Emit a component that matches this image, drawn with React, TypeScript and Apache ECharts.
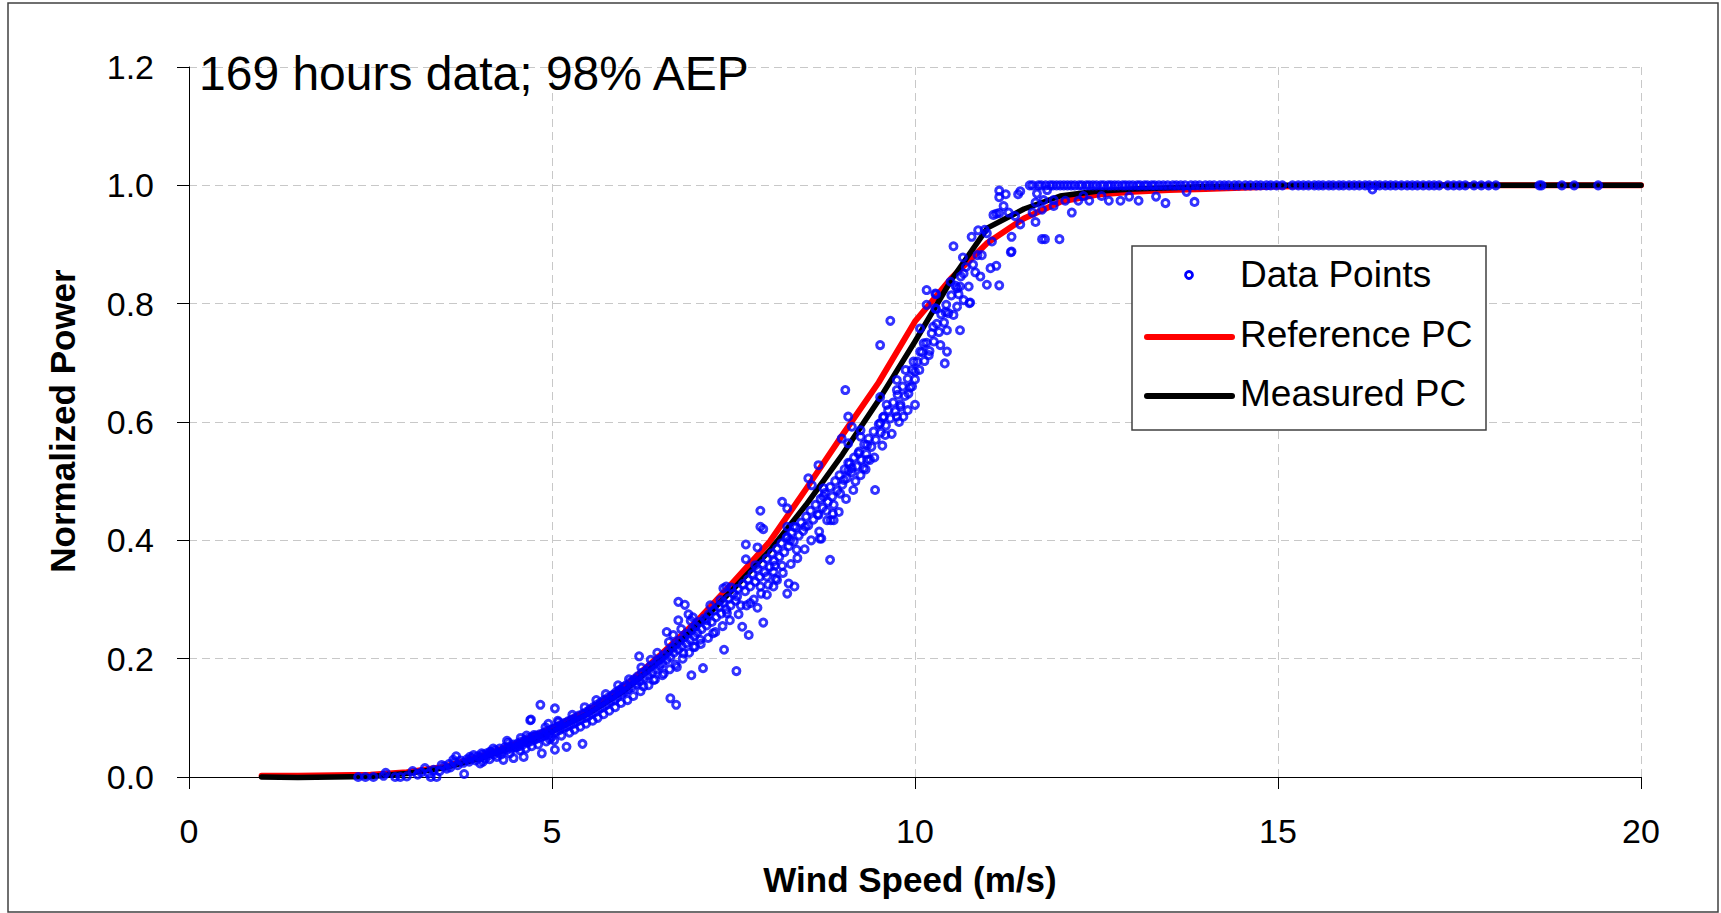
import React, { useEffect, useRef } from "react";
import * as echarts from "echarts";

const titleText = "169 hours data; 98% AEP";
const xAxisTitle = "Wind Speed (m/s)";
const yAxisTitle = "Normalized Power";
const legendNames = ["Data Points", "Reference PC", "Measured PC"];

const xTickValues = [0, 5, 10, 15, 20];
const yTickValues = [0, 0.2, 0.4, 0.6, 0.8, 1.0, 1.2];

// power curve bins (m/s)
const pcWind = [
  1, 1.5, 2, 2.5, 3, 3.5, 4, 4.5, 5, 5.5, 6, 6.5, 7, 7.5, 8, 8.5, 9, 9.5, 10, 10.5,
  11, 11.5, 12, 12.5, 13, 13.5, 14, 14.5, 15, 15.5, 16, 16.5, 17, 17.5, 18, 18.5, 19, 19.5, 20,
];
const referencePC = [
  0.002, 0.002, 0.003, 0.004, 0.008, 0.017, 0.034, 0.056, 0.083, 0.113, 0.153, 0.207, 0.264, 0.33, 0.398, 0.487, 0.578, 0.667, 0.77, 0.843,
  0.903, 0.944, 0.972, 0.984, 0.989, 0.992, 0.994, 0.996, 0.998, 0.999, 1, 1, 1, 1, 1, 1, 1, 1, 1,
];
const measuredPC = [
  0, -0.001, 0, 0.001, 0.006, 0.015, 0.031, 0.052, 0.077, 0.107, 0.146, 0.198, 0.256, 0.318, 0.383, 0.46, 0.545, 0.637, 0.736, 0.84,
  0.928, 0.96, 0.982, 0.99, 0.994, 0.996, 0.998, 0.999, 1, 1, 1, 1, 1, 1, 1, 1, 1, 1, 1,
];

// measured 10-min data points [wind speed, normalized power]
const dataPoints: [number, number][] = [
  [2.33, 0], [2.43, 0], [2.54, 0], [2.68, 0.002], [2.71, 0.007], [2.84, 0], [2.91, 0], [3.0, 0.001], [3.08, 0.01], [3.15, 0.004],
  [3.2, 0.008], [3.25, 0.015], [3.3, 0.006], [3.33, 0], [3.37, 0.012], [3.41, 0], [3.45, 0.01], [3.48, 0.02], [3.52, 0.018], [3.55, 0.014],
  [3.58, 0.022], [3.6, 0.016], [3.64, 0.029], [3.66, 0.025], [3.68, 0.035], [3.7, 0.02], [3.74, 0.028], [3.78, 0.024], [3.79, 0.005], [3.83, 0.03],
  [3.86, 0.026], [3.87, 0.034], [3.9, 0.032], [3.92, 0.037], [3.95, 0.028], [3.98, 0.035], [4.01, 0.023], [4.02, 0.033], [4.03, 0.04], [4.05, 0.038],
  [4.08, 0.031], [4.1, 0.04], [4.12, 0.036], [4.15, 0.043], [4.16, 0.042], [4.19, 0.048], [4.2, 0.038], [4.22, 0.045], [4.26, 0.041], [4.28, 0.048],
  [4.31, 0.044], [4.33, 0.029], [4.35, 0.05], [4.38, 0.061], [4.38, 0.046], [4.41, 0.052], [4.44, 0.048], [4.47, 0.032], [4.47, 0.055], [4.5, 0.05],
  [4.52, 0.051], [4.53, 0.057], [4.55, 0.052], [4.58, 0.06], [4.6, 0.055], [4.61, 0.034], [4.63, 0.062], [4.66, 0.058], [4.68, 0.066], [4.7, 0.096],
  [4.7, 0.06], [4.71, 0.097], [4.73, 0.068], [4.75, 0.071], [4.76, 0.063], [4.78, 0.07], [4.8, 0.065], [4.83, 0.072], [4.84, 0.122], [4.86, 0.04],
  [4.86, 0.068], [4.88, 0.074], [4.9, 0.07], [4.93, 0.078], [4.96, 0.073], [4.98, 0.079], [5.0, 0.068], [5.02, 0.082], [5.04, 0.116], [5.04, 0.046],
  [5.05, 0.076], [5.07, 0.085], [5.09, 0.093], [5.1, 0.079], [5.12, 0.088], [5.15, 0.083], [5.17, 0.091], [5.2, 0.051], [5.2, 0.085], [5.22, 0.094],
  [5.25, 0.088], [5.27, 0.097], [5.3, 0.09], [5.32, 0.1], [5.35, 0.094], [5.37, 0.104], [5.4, 0.097], [5.42, 0.056], [5.43, 0.107], [5.46, 0.1],
  [5.48, 0.11], [5.5, 0.103], [5.52, 0.114], [5.55, 0.107], [5.57, 0.118], [5.6, 0.11], [5.62, 0.122], [5.65, 0.115], [5.67, 0.126], [5.7, 0.118],
  [5.72, 0.13], [5.75, 0.122], [5.77, 0.134], [5.8, 0.127], [5.83, 0.138], [5.85, 0.139], [5.86, 0.13], [5.88, 0.143], [5.9, 0.135], [5.93, 0.147],
  [5.94, 0.147], [5.96, 0.14], [5.98, 0.152], [6.0, 0.144], [6.02, 0.155], [6.05, 0.148], [6.08, 0.16], [6.1, 0.152], [6.13, 0.165], [6.16, 0.157],
  [6.17, 0.164], [6.18, 0.17], [6.2, 0.204], [6.21, 0.162], [6.24, 0.176], [6.26, 0.153], [6.27, 0.168], [6.3, 0.18], [6.32, 0.172], [6.35, 0.186],
  [6.38, 0.177], [6.4, 0.164], [6.4, 0.19], [6.43, 0.182], [6.46, 0.196], [6.48, 0.188], [6.5, 0.2], [6.52, 0.192], [6.54, 0.175], [6.55, 0.206],
  [6.58, 0.245], [6.58, 0.198], [6.6, 0.212], [6.63, 0.133], [6.63, 0.203], [6.66, 0.218], [6.67, 0.24], [6.68, 0.21], [6.71, 0.122], [6.71, 0.224],
  [6.72, 0.186], [6.74, 0.265], [6.74, 0.296], [6.74, 0.215], [6.76, 0.23], [6.79, 0.221], [6.81, 0.209], [6.82, 0.236], [6.83, 0.291], [6.85, 0.226],
  [6.87, 0.242], [6.88, 0.275], [6.9, 0.232], [6.91, 0.264], [6.92, 0.172], [6.93, 0.249], [6.95, 0.22], [6.96, 0.238], [6.98, 0.255], [7.0, 0.244],
  [7.03, 0.262], [7.04, 0.232], [7.06, 0.25], [7.08, 0.184], [7.1, 0.268], [7.13, 0.256], [7.13, 0.265], [7.16, 0.275], [7.2, 0.262], [7.22, 0.243],
  [7.23, 0.282], [7.26, 0.27], [7.3, 0.288], [7.32, 0.299], [7.33, 0.276], [7.36, 0.319], [7.36, 0.295], [7.37, 0.215], [7.4, 0.322], [7.4, 0.283],
  [7.41, 0.277], [7.43, 0.302], [7.46, 0.29], [7.5, 0.31], [7.53, 0.298], [7.54, 0.179], [7.55, 0.305], [7.56, 0.318], [7.6, 0.29], [7.62, 0.254],
  [7.63, 0.326], [7.66, 0.314], [7.67, 0.393], [7.67, 0.368], [7.7, 0.334], [7.71, 0.24], [7.73, 0.294], [7.73, 0.322], [7.76, 0.343], [7.8, 0.358],
  [7.8, 0.33], [7.83, 0.388], [7.83, 0.286], [7.83, 0.352], [7.86, 0.338], [7.87, 0.45], [7.87, 0.423], [7.87, 0.322], [7.9, 0.36], [7.91, 0.419],
  [7.91, 0.261], [7.93, 0.346], [7.96, 0.339], [7.96, 0.308], [7.96, 0.369], [8.0, 0.355], [8.03, 0.378], [8.05, 0.347], [8.05, 0.322], [8.06, 0.365],
  [8.07, 0.357], [8.1, 0.333], [8.1, 0.386], [8.13, 0.372], [8.16, 0.395], [8.17, 0.465], [8.17, 0.357], [8.2, 0.38], [8.23, 0.404], [8.24, 0.454],
  [8.24, 0.423], [8.24, 0.406], [8.24, 0.31], [8.26, 0.327], [8.26, 0.39], [8.28, 0.4], [8.3, 0.413], [8.33, 0.423], [8.33, 0.398], [8.34, 0.322],
  [8.36, 0.422], [8.37, 0.384], [8.4, 0.408], [8.43, 0.43], [8.46, 0.416], [8.49, 0.423], [8.5, 0.44], [8.53, 0.505], [8.53, 0.425], [8.56, 0.45],
  [8.58, 0.493], [8.6, 0.435], [8.63, 0.46], [8.66, 0.444], [8.67, 0.527], [8.67, 0.443], [8.69, 0.403], [8.7, 0.47], [8.71, 0.403], [8.73, 0.455],
  [8.74, 0.488], [8.74, 0.474], [8.76, 0.48], [8.79, 0.434], [8.8, 0.465], [8.83, 0.49], [8.83, 0.367], [8.84, 0.434], [8.86, 0.474], [8.88, 0.46],
  [8.88, 0.434], [8.9, 0.5], [8.93, 0.484], [8.95, 0.448], [8.96, 0.51], [8.97, 0.479], [8.99, 0.572], [9.0, 0.494], [9.02, 0.502], [9.03, 0.52],
  [9.04, 0.654], [9.06, 0.505], [9.08, 0.609], [9.08, 0.564], [9.08, 0.531], [9.08, 0.518], [9.1, 0.53], [9.13, 0.592], [9.13, 0.522], [9.13, 0.515],
  [9.15, 0.485], [9.16, 0.54], [9.2, 0.525], [9.22, 0.547], [9.23, 0.55], [9.25, 0.586], [9.25, 0.575], [9.25, 0.51], [9.26, 0.536], [9.29, 0.522],
  [9.3, 0.562], [9.33, 0.546], [9.34, 0.561], [9.34, 0.536], [9.36, 0.572], [9.38, 0.536], [9.4, 0.558], [9.43, 0.584], [9.45, 0.485], [9.46, 0.57],
  [9.5, 0.596], [9.52, 0.73], [9.52, 0.642], [9.52, 0.598], [9.53, 0.582], [9.56, 0.608], [9.57, 0.609], [9.59, 0.578], [9.6, 0.594], [9.61, 0.629],
  [9.63, 0.62], [9.66, 0.771], [9.66, 0.606], [9.7, 0.633], [9.73, 0.618], [9.75, 0.671], [9.75, 0.654], [9.75, 0.609], [9.76, 0.646], [9.8, 0.626],
  [9.8, 0.63], [9.83, 0.66], [9.84, 0.609], [9.86, 0.644], [9.87, 0.688], [9.9, 0.673], [9.91, 0.648], [9.93, 0.658], [9.96, 0.66], [9.96, 0.688],
  [9.98, 0.702], [10.0, 0.629], [10.0, 0.685], [10.0, 0.672], [10.03, 0.702], [10.06, 0.688], [10.07, 0.758], [10.07, 0.719], [10.1, 0.718], [10.12, 0.733],
  [10.13, 0.703], [10.16, 0.823], [10.16, 0.798], [10.16, 0.734], [10.19, 0.713], [10.2, 0.72], [10.23, 0.75], [10.25, 0.761], [10.26, 0.736], [10.28, 0.817],
  [10.28, 0.792], [10.29, 0.816], [10.29, 0.791], [10.3, 0.766], [10.33, 0.752], [10.35, 0.73], [10.36, 0.782], [10.4, 0.768], [10.41, 0.699], [10.42, 0.786],
  [10.43, 0.798], [10.44, 0.755], [10.44, 0.719], [10.46, 0.784], [10.49, 0.837], [10.5, 0.814], [10.53, 0.897], [10.53, 0.781], [10.56, 0.83], [10.58, 0.826],
  [10.58, 0.795], [10.6, 0.816], [10.62, 0.829], [10.62, 0.755], [10.63, 0.846], [10.66, 0.878], [10.67, 0.851], [10.67, 0.806], [10.7, 0.862], [10.74, 0.829],
  [10.75, 0.801], [10.76, 0.802], [10.78, 0.913], [10.8, 0.866], [10.83, 0.853], [10.86, 0.882], [10.87, 0.924], [10.9, 0.846], [10.92, 0.882], [10.96, 0.925],
  [10.99, 0.832], [10.99, 0.919], [11.04, 0.86], [11.06, 0.905], [11.08, 0.95], [11.12, 0.864], [11.12, 0.952], [11.16, 0.991], [11.16, 0.98], [11.16, 0.953],
  [11.16, 0.831], [11.22, 0.965], [11.25, 0.985], [11.29, 0.954], [11.32, 0.887], [11.33, 0.913], [11.33, 0.888], [11.38, 0.948], [11.42, 0.985], [11.45, 0.99],
  [11.45, 0.934], [11.58, 1], [11.62, 0.954], [11.66, 0.938], [11.66, 0.971], [11.68, 0.986], [11.75, 0.909], [11.79, 0.909], [11.75, 0.959], [11.77, 0.975],
  [11.82, 0.992], [11.91, 0.975], [11.91, 0.965], [11.99, 0.909], [12.07, 0.974], [12.16, 0.954], [12.25, 0.974], [12.32, 0.982], [12.4, 0.974], [12.57, 0.982],
  [12.67, 0.974], [12.83, 0.974], [12.95, 0.981], [13.08, 0.974], [13.32, 0.981], [13.45, 0.97], [13.74, 0.989], [13.85, 0.972], [16.3, 0.993],
  [4.05, 0.026], [4.14, 0.03], [4.24, 0.034], [4.3, 0.038], [4.42, 0.04], [4.56, 0.045], [4.64, 0.048], [4.72, 0.052], [4.81, 0.055], [4.92, 0.06],
  [4.97, 0.064], [4.4, 0.058], [4.57, 0.066], [4.65, 0.07], [4.91, 0.084], [4.95, 0.09], [5.03, 0.062], [5.13, 0.07], [5.24, 0.075], [5.31, 0.08],
  [5.39, 0.085], [5.47, 0.09], [5.56, 0.095], [5.63, 0.1], [5.71, 0.106], [5.79, 0.112], [5.87, 0.118], [5.95, 0.125], [5.08, 0.095], [5.28, 0.105],
  [5.45, 0.118], [5.61, 0.13], [5.74, 0.14], [5.91, 0.155], [6.04, 0.13], [6.12, 0.137], [6.22, 0.145], [6.33, 0.155], [6.42, 0.165], [6.52, 0.172],
  [6.62, 0.182], [6.7, 0.19], [6.8, 0.2], [6.89, 0.21], [6.97, 0.22], [6.06, 0.165], [6.23, 0.185], [6.36, 0.198], [6.45, 0.21], [6.61, 0.228],
  [6.78, 0.25], [6.94, 0.27], [7.05, 0.225], [7.15, 0.235], [7.25, 0.245], [7.35, 0.255], [7.45, 0.265], [7.57, 0.275], [7.68, 0.29], [7.78, 0.3],
  [7.88, 0.31], [7.98, 0.325], [7.18, 0.29], [7.47, 0.32], [8.08, 0.335], [8.18, 0.345], [8.29, 0.36], [8.38, 0.37], [8.48, 0.385], [8.57, 0.4],
  [8.68, 0.415], [8.78, 0.45], [8.87, 0.445], [9.05, 0.47], [9.18, 0.5], [9.32, 0.52], [9.44, 0.54], [9.55, 0.56], [9.68, 0.58], [9.78, 0.6],
  [9.9, 0.62],
  [11.62, 1], [11.7, 1], [11.74, 1], [11.8, 1], [11.86, 1], [11.9, 1], [11.95, 1], [12.0, 1], [12.05, 1], [12.1, 1],
  [12.15, 1], [12.2, 1], [12.26, 1], [12.3, 1], [12.36, 1], [12.4, 1], [12.45, 1], [12.5, 1], [12.56, 1], [12.6, 1],
  [12.66, 1], [12.7, 1], [12.75, 1], [12.8, 1], [12.86, 1], [12.9, 1], [12.95, 1], [13.0, 1], [13.06, 1], [13.1, 1],
  [13.16, 1], [13.2, 1], [13.26, 1], [13.3, 1], [13.36, 1], [13.42, 1], [13.48, 1], [13.55, 1], [13.6, 1], [13.66, 1],
  [13.72, 1], [13.8, 1], [13.86, 1], [13.92, 1], [14.0, 1], [14.06, 1], [14.12, 1], [14.2, 1], [14.26, 1], [14.32, 1],
  [14.4, 1], [14.46, 1], [14.55, 1], [14.62, 1], [14.7, 1], [14.76, 1], [14.84, 1], [14.9, 1], [14.98, 1], [15.06, 1],
  [15.2, 1], [15.28, 1], [15.35, 1], [15.42, 1], [15.5, 1], [15.56, 1], [15.62, 1], [15.7, 1], [15.76, 1], [15.84, 1],
  [15.9, 1], [15.98, 1], [16.05, 1], [16.12, 1], [16.2, 1], [16.26, 1], [16.34, 1], [16.4, 1], [16.48, 1], [16.55, 1],
  [16.62, 1], [16.7, 1], [16.78, 1], [16.85, 1], [16.92, 1], [17.0, 1], [17.08, 1], [17.15, 1], [17.22, 1], [17.34, 1],
  [17.42, 1], [17.5, 1], [17.58, 1], [17.7, 1], [17.8, 1], [17.9, 1], [18.0, 1], [18.6, 1], [18.63, 1], [18.91, 1],
  [19.08, 1], [19.41, 1],
];

const FONT = '"Liberation Sans", Arial, Helvetica, sans-serif';

function txt(text: string, x: number, y: number, size: number, opts: any = {}) {
  return {
    type: "text",
    x,
    y,
    rotation: opts.rotation || 0,
    z: 100,
    style: {
      text,
      fill: "#000",
      fontSize: size,
      fontFamily: FONT,
      fontWeight: opts.bold ? "bold" : "normal",
      align: opts.align || "left",
      textAlign: opts.align || "left",
      verticalAlign: "middle",
      textVerticalAlign: "middle",
    },
  };
}

export default function App() {
  const ref = useRef<HTMLDivElement>(null);
  useEffect(() => {
    document.body.style.margin = "0";
    const chart = echarts.init(ref.current!, null, { renderer: "svg" });
    const option: any = {
      animation: false,
      backgroundColor: "#ffffff",
      grid: { left: 189, right: 80, top: 67, bottom: 136, containLabel: false },
      xAxis: {
        type: "value",
        min: xTickValues[0],
        max: xTickValues[xTickValues.length - 1],
        interval: 5,
        axisLine: { show: true, onZero: false, lineStyle: { color: "#000", width: 1 } },
        axisTick: { show: true, inside: false, length: 12, lineStyle: { color: "#000", width: 1 } },
        axisLabel: {
          fontSize: 34,
          fontFamily: FONT,
          color: "#000",
          margin: 37,
          formatter: (v: number) => String(v),
        },
        splitLine: { show: true, lineStyle: { color: "#c8c8c8", width: 1, type: [8, 5] } },
      },
      yAxis: {
        type: "value",
        min: yTickValues[0],
        max: yTickValues[yTickValues.length - 1],
        interval: 0.2,
        axisLine: { show: true, onZero: false, lineStyle: { color: "#000", width: 1 } },
        axisTick: { show: true, inside: false, length: 12, lineStyle: { color: "#000", width: 1 } },
        axisLabel: {
          fontSize: 34,
          fontFamily: FONT,
          color: "#000",
          margin: 35,
          formatter: (v: number) => v.toFixed(1),
        },
        splitLine: { show: true, lineStyle: { color: "#c8c8c8", width: 1, type: [8, 5] } },
      },
      series: [
        {
          name: legendNames[1],
          type: "line",
          data: pcWind.map((w, i) => [w, referencePC[i]]),
          showSymbol: false,
          symbol: "none",
          clip: false,
          z: 2,
          lineStyle: { color: "#ff0000", width: 6, cap: "round", join: "round" },
        },
        {
          name: legendNames[2],
          type: "line",
          data: pcWind.map((w, i) => [w, measuredPC[i]]),
          showSymbol: false,
          symbol: "none",
          clip: false,
          z: 3,
          lineStyle: { color: "#000000", width: 5.5, cap: "round", join: "round" },
        },
        {
          name: legendNames[0],
          type: "scatter",
          data: dataPoints,
          symbol: "circle",
          symbolSize: 7,
          clip: false,
          z: 4,
          itemStyle: { color: "rgba(255,255,255,0)", borderColor: "#0000ff", borderWidth: 3 },
        },
      ],
      graphic: [
        {
          type: "rect",
          z: 0,
          shape: { x: 8, y: 3, width: 1710, height: 909 },
          style: { fill: "none", stroke: "#404040", lineWidth: 1.5 },
        },
        txt(titleText, 199, 73, 48),
        txt(xAxisTitle, 910, 879, 35, { bold: true, align: "center" }),
        txt(yAxisTitle, 62, 421, 35, { bold: true, align: "center", rotation: Math.PI / 2 }),
        {
          type: "group",
          z: 100,
          children: [
            {
              type: "rect",
              z: 100,
              shape: { x: 1132, y: 246, width: 354, height: 184 },
              style: { fill: "#ffffff", stroke: "#404040", lineWidth: 1.5 },
            },
            {
              type: "circle",
              z: 101,
              shape: { cx: 1189, cy: 275, r: 3.5 },
              style: { fill: "none", stroke: "#0000ff", lineWidth: 2.8 },
            },
            {
              type: "line",
              z: 101,
              shape: { x1: 1147, y1: 337, x2: 1232, y2: 337 },
              style: { stroke: "#ff0000", lineWidth: 6, lineCap: "round" },
            },
            {
              type: "line",
              z: 101,
              shape: { x1: 1147, y1: 396, x2: 1232, y2: 396 },
              style: { stroke: "#000000", lineWidth: 6, lineCap: "round" },
            },
            txt(legendNames[0], 1240, 274, 37),
            txt(legendNames[1], 1240, 334, 37),
            txt(legendNames[2], 1240, 393, 37),
          ],
        },
      ],
    };
    chart.setOption(option);
    return () => chart.dispose();
  }, []);
  return <div ref={ref} style={{ width: 1721, height: 913, position: "absolute", left: 0, top: 0 }} />;
}
